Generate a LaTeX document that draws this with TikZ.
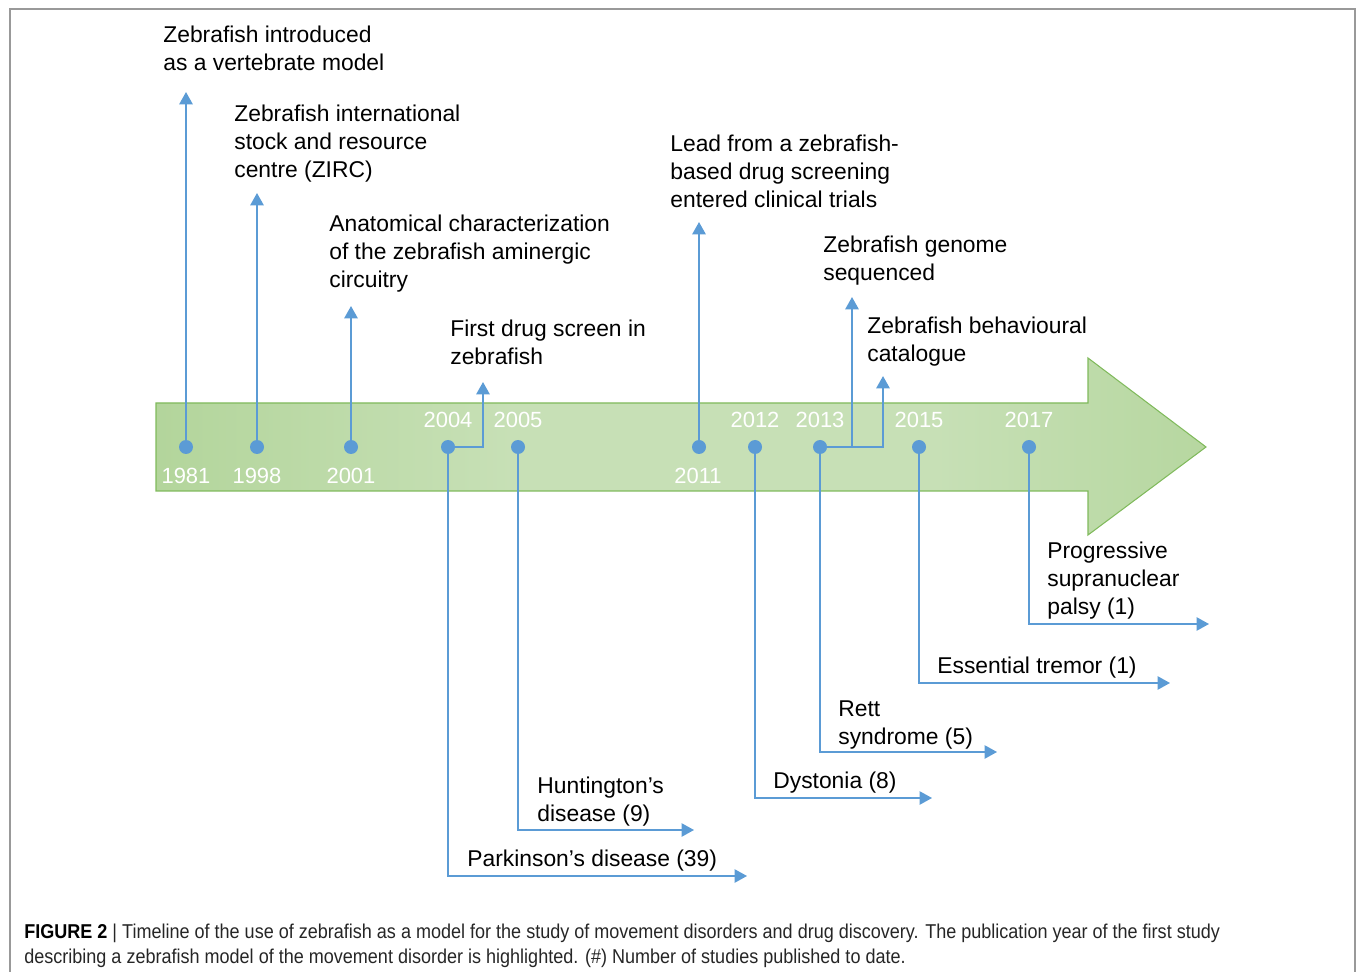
\documentclass[tikz,border=0pt]{standalone}
\usepackage{fontspec}
\setmainfont{Liberation Sans}
\newfontfamily\capfont[FakeStretch=0.9]{Liberation Sans}
\usetikzlibrary{arrows.meta}
\definecolor{evblue}{RGB}{91,155,213}
\definecolor{bandgreen}{RGB}{166,206,138}
\definecolor{bandlight}{RGB}{199,224,182}
\definecolor{bandedge}{RGB}{128,186,92}
\pgfdeclarehorizontalshading{bandshade}{100bp}{color(0bp)=(bandgreen); color(14bp)=(bandgreen); color(42bp)=(bandlight); color(62bp)=(bandlight); color(88bp)=(bandgreen); color(100bp)=(bandgreen)}

\begin{document}
\begin{tikzpicture}[x=0.02cm, y=-0.02cm,
		evdot/.style={circle, fill=evblue, inner sep=0pt, minimum size=0.28cm},
		year/.style={text=white, font=\fontsize{12.5}{15}\selectfont, inner sep=0pt},
		event/.style={anchor=north west, align=left, inner sep=0pt, font=\fontsize{13}{15.9}\selectfont},
		uparr/.style={draw=evblue, line width=1.25pt, -{Triangle[width=7.5pt,length=7pt]}},
		downarr/.style={draw=evblue, line width=0.9pt, -{Triangle[width=7.5pt,length=7pt]}}]
				\useasboundingbox (0,0) rectangle (1358,972);
				\draw[black!40, line width=0.6pt] (10,972) |- (1355,9) -- (1355,972);
				\shadedraw[shading=bandshade, draw=bandedge, line width=0.6pt]
					(156,403) -- (1088,403) -- (1088,358) -- (1206,447) -- (1088,535) -- (1088,491) -- (156,491) -- cycle;
				\foreach \yr/\x in {1981/186, 1998/257, 2001/351, 2004/448, 2005/518, 2011/699, 2012/755, 2013/820, 2015/919, 2017/1029} {
					\node[evdot] (d\yr) at (\x,447) {};
				}
				\foreach \yr/\x in {1981/186, 1998/257, 2001/351, 2011/698} {
					\node[year] (y\yr) at (\x,476) {\yr};
				}
				\foreach \yr/\x in {2004/448, 2005/518, 2012/755, 2013/820, 2015/919, 2017/1029} {
					\node[year] (y\yr) at (\x,420) {\yr};
				}
				\node[event] (l1981) at (163,26) {Zebrafish introduced\\as a vertebrate model};
				\node[event] (l1998) at (234,105) {Zebrafish international\\stock and resource\\centre (ZIRC)};
				\node[event] (l2001) at (329,215) {Anatomical characterization\\of the zebrafish aminergic\\circuitry};
				\node[event] (l2004) at (450,320) {First drug screen in\\zebrafish};
				\node[event] (l2011) at (670,135) {Lead from a zebrafish-\\based drug screening\\entered clinical trials};
				\node[event] (lg2013) at (823,236) {Zebrafish genome\\sequenced};
				\node[event] (lb2013) at (867,317) {Zebrafish behavioural\\catalogue};
				\node[event] (pd) at (467,850) {Parkinson’s disease (39)};
				\node[event] (hd) at (537,777) {Huntington’s\\disease (9)};
				\node[event] (dy) at (773,772) {Dystonia (8)};
				\node[event] (rs) at (838,700) {Rett\\syndrome (5)};
				\node[event] (et) at (937,657) {Essential tremor (1)};
				\node[event] (ps) at (1047,542) {Progressive\\supranuclear\\palsy (1)};
				\coordinate (t1981) at (186,92);
				\coordinate (t1998) at (257,193);
				\coordinate (t2001) at (351,306);
				\coordinate (t2004) at (483,382);
				\coordinate (t2011) at (699,222);
				\coordinate (tg2013) at (852,297);
				\coordinate (tb2013) at (883,376);
				\draw[uparr] (d1981) -- (t1981);
				\draw[uparr] (d1998) -- (t1998);
				\draw[uparr] (d2001) -- (t2001);
				\draw[uparr] (d2004) -| (t2004);
				\draw[uparr] (d2011) -- (t2011);
				\draw[uparr] (d2013) -| (tb2013);
				\draw[uparr] (d2013 -| tg2013) -- (tg2013);
				\coordinate (e2004) at (747,876);
				\coordinate (e2005) at (694,830);
				\coordinate (e2012) at (932,798);
				\coordinate (e2013) at (997,752);
				\coordinate (e2015) at (1170,683);
				\coordinate (e2017) at (1209,624);
				\foreach \yr in {2004, 2005, 2012, 2013, 2015, 2017} {
					\draw[downarr] (d\yr) |- (e\yr);
				}
				\node[anchor=north west, align=left, inner sep=0pt, text=black!85, font=\capfont\fontsize{11.4}{14.2}\selectfont] (caption) at (24,924)
					{\textbf{\color{black}FIGURE 2} | Timeline of the use of zebrafish as a model for the study of movement disorders and drug discovery. The publication year of the first study\\describing a zebrafish model of the movement disorder is highlighted. (\#) Number of studies published to date.};
			\end{tikzpicture}
\end{document}
